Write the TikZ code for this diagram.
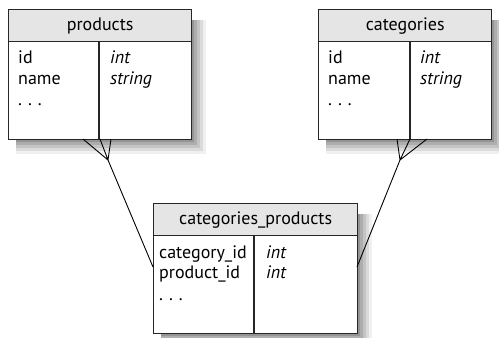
\documentclass[tikz,border=0pt]{standalone}
\usepackage{fontspec}
\setmainfont{PT Sans}
\tikzset{
  tablebox/.style={draw=black!85, line width=1.4pt, fill=white, inner sep=0pt, anchor=north west},
  header/.style={draw=black!85, line width=1.4pt, fill=black!10, inner sep=0pt, anchor=north west,
    font=\fontsize{18}{21}\selectfont},
  field/.style={anchor=base west, inner sep=0pt, font=\fontsize{18}{21}\selectfont},
  ftype/.style={field, font=\fontsize{18}{21}\selectfont\itshape},
  divider/.style={draw=black!85, line width=1.2pt},
  link/.style={line width=0.9pt},
  band/.style={line width=3.2pt, line join=miter},
}
\begin{document}
\begin{tikzpicture}[x=1pt,y=-1pt]
\useasboundingbox (0,0) rectangle (499,338);

% drop shadows: L-shaped bands along the right and lower edges, darkest nearest the box
\draw[band, black!6]  (16,152) -- (204,152) -- (204,20);
\draw[band, black!14] (16,149) -- (201,149) -- (201,20);
\draw[band, black!23] (16,146) -- (198,146) -- (198,20);
\draw[band, black!32] (16,143) -- (195,143) -- (195,20);
\draw[band, black!42] (16,140) -- (192,140) -- (192,20);

\draw[band, black!6]  (326,152) -- (504,152) -- (504,20);
\draw[band, black!14] (326,149) -- (501,149) -- (501,20);
\draw[band, black!23] (326,146) -- (498,146) -- (498,20);
\draw[band, black!32] (326,143) -- (495,143) -- (495,20);
\draw[band, black!42] (326,140) -- (492,140) -- (492,20);

\draw[band, black!6]  (161,346) -- (370,346) -- (370,214);
\draw[band, black!14] (161,343) -- (367,343) -- (367,214);
\draw[band, black!23] (161,340) -- (364,340) -- (364,214);
\draw[band, black!32] (161,337) -- (361,337) -- (361,214);
\draw[band, black!42] (161,334) -- (358,334) -- (358,214);

% products table
\node[tablebox, minimum width=183pt, minimum height=130pt] (prod) at (8,9) {};
\node[header, minimum width=183pt, minimum height=32pt] (prodh) at (prod.north west) {products};
\draw[divider] (99,41) -- (99,139);
\node[field] (pid) at (18,63) {id};
\node[field] (pname) at (18,84) {name};
\node[field] (pdots) at (18,105) {.\,\,.\,\,.};
\node[ftype] (pidt) at (110,63) {int};
\node[ftype] (pnamet) at (110,84) {string};

% categories table
\node[tablebox, minimum width=173pt, minimum height=130pt] (cat) at (318,9) {};
\node[header, minimum width=173pt, minimum height=32pt] (cath) at (cat.north west) {categories};
\draw[divider] (410,41) -- (410,139);
\node[field] (cid) at (328,63) {id};
\node[field] (cname) at (328,84) {name};
\node[field] (cdots) at (328,105) {.\,\,.\,\,.};
\node[ftype] (cidt) at (420,63) {int};
\node[ftype] (cnamet) at (420,84) {string};

% join table
\node[tablebox, minimum width=204pt, minimum height=130pt] (cp) at (153,203) {};
\node[header, minimum width=204pt, minimum height=32pt] (cph) at (cp.north west) {categories\_products};
\draw[divider] (254,235) -- (254,333);
\node[field] (cpc) at (159,258) {category\_id};
\node[field] (cpp) at (159,278) {product\_id};
\node[field] (cpd) at (159,300) {.\,\,.\,\,.};
\node[ftype] (cpct) at (266,258) {int};
\node[ftype] (cppt) at (266,278) {int};

% crow's feet and links
\coordinate (pj) at (108,160);
\coordinate (pf1) at (83,139);
\coordinate (pf2) at (100,139);
\coordinate (pf3) at (111,139);
\coordinate (cj) at (400,160);
\coordinate (cf1) at (397,139);
\coordinate (cf2) at (410,139);
\coordinate (cf3) at (427,139);
\coordinate (cpl) at (153,267);
\coordinate (cpr) at (357,267);
\draw[link] (pf1) -- (pj) (pf2) -- (pj) (pf3) -- (pj);
\draw[link] (cf1) -- (cj) (cf2) -- (cj) (cf3) -- (cj);
\draw[link] (pj) -- (cpl);
\draw[link] (cj) -- (cpr);
\end{tikzpicture}
\end{document}
